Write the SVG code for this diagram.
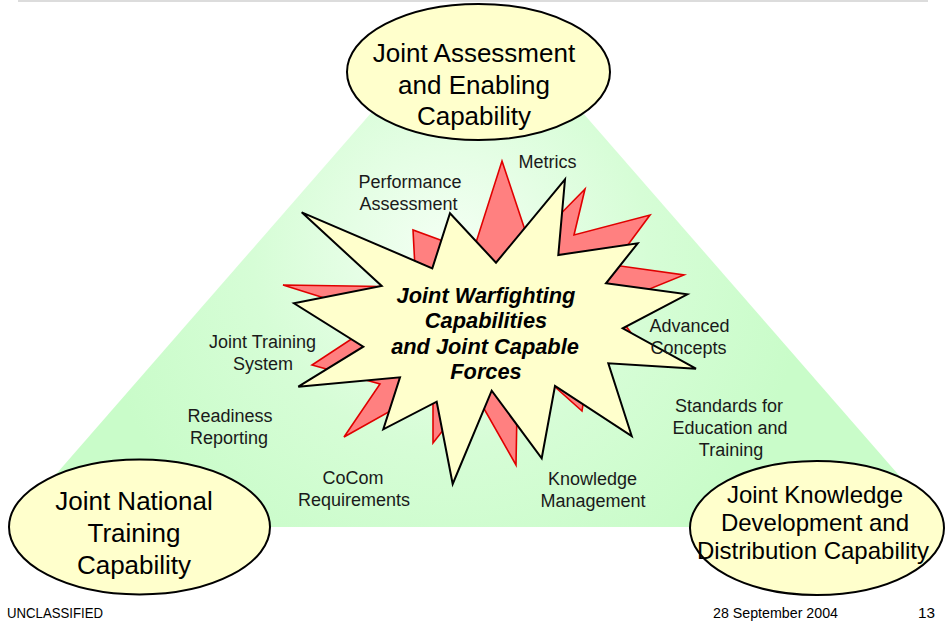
<svg xmlns="http://www.w3.org/2000/svg" width="945" height="631" viewBox="0 0 945 631">
<defs>
<radialGradient id="bg" gradientUnits="userSpaceOnUse" cx="450" cy="250" r="360">
<stop offset="0" stop-color="#f4fff4"/>
<stop offset="0.55" stop-color="#d6fdd6"/>
<stop offset="1" stop-color="#c9fcc9"/>
</radialGradient>
<style>
.ell{fill:#ffffcc;stroke:#000;stroke-width:2}
.big{font-family:"Liberation Sans",Arial,sans-serif;font-size:26px;fill:#000;text-anchor:middle}
.mid{font-family:"Liberation Sans",Arial,sans-serif;font-size:24px;fill:#000;text-anchor:middle}
.lbl{font-family:"Liberation Sans",Arial,sans-serif;font-size:18px;fill:#1a1a1a;text-anchor:middle}
.ctr{font-family:"Liberation Sans",Arial,sans-serif;font-size:21.8px;font-weight:bold;font-style:italic;fill:#000;text-anchor:middle}
.ftr{font-family:"Liberation Sans Narrow","Liberation Sans",Arial,sans-serif;font-size:14px;fill:#000}
</style>
</defs>
<rect width="945" height="631" fill="#fff"/>
<line x1="18" y1="1" x2="928" y2="1" stroke="#dcdcdc" stroke-width="2"/>

<g id="background">
<polygon points="386.7,95 567.3,95 944,527 10,527" fill="url(#bg)"/>
</g>

<g id="burst-shadow">
<polygon points="502,161 530,245 585,189 574,235 650,215 613,265 684,275 610,305 632,334 590,360 582,411 518,354 516,465 474,391 433,443 433,387 344,437 380,384 312,365 385,317 283,285 416,287 413,230 473,252" fill="#ff8080" stroke="#e00000" stroke-width="1.6" stroke-linejoin="miter"/>
</g>

<g id="burst">
<polygon points="565,179.3 496,262.7 450,213.3 432.3,268.3 301.7,212.3 381.7,286 294,303.3 363.3,346.7 298.3,386.7 400,377.3 383.3,429.3 436.7,401.7 452.7,484 491.7,390.7 541.7,458.3 555,386 631.7,436 608.3,363.3 696,368.7 622.7,328.3 687.3,294.3 606,283.3 637.7,243.3 558.3,255" fill="#ffffcc" stroke="#000" stroke-width="2" stroke-linejoin="miter"/>
<text class="ctr" x="486" y="303">Joint Warfighting</text>
<text class="ctr" x="486" y="328">Capabilities</text>
<text class="ctr" x="485" y="353.5">and Joint Capable</text>
<text class="ctr" x="486" y="379">Forces</text>
</g>

<g id="node-top">
<ellipse class="ell" cx="478.5" cy="72" rx="131.5" ry="68"/>
<text class="big" x="474" y="62">Joint Assessment</text>
<text class="big" x="474" y="94">and Enabling</text>
<text class="big" x="474" y="125">Capability</text>
</g>

<g id="node-left">
<ellipse class="ell" cx="139.5" cy="527" rx="130.5" ry="67.5"/>
<text class="big" x="134" y="510">Joint National</text>
<text class="big" x="134" y="542">Training</text>
<text class="big" x="134" y="574">Capability</text>
</g>

<g id="node-right">
<ellipse class="ell" cx="817" cy="528" rx="127" ry="67"/>
<text class="mid" x="815" y="503">Joint Knowledge</text>
<text class="mid" x="815" y="531">Development and</text>
<text class="mid" x="813" y="559">Distribution Capability</text>
</g>

<g id="labels">
<text class="lbl" x="410" y="188">Performance</text>
<text class="lbl" x="408.5" y="210">Assessment</text>
<text class="lbl" x="547.5" y="168">Metrics</text>
<text class="lbl" x="689.5" y="331.5">Advanced</text>
<text class="lbl" x="688.5" y="353.5">Concepts</text>
<text class="lbl" x="729" y="412">Standards for</text>
<text class="lbl" x="730" y="434">Education and</text>
<text class="lbl" x="731" y="456">Training</text>
<text class="lbl" x="592.5" y="485">Knowledge</text>
<text class="lbl" x="593" y="507">Management</text>
<text class="lbl" x="353" y="484">CoCom</text>
<text class="lbl" x="354" y="505.5">Requirements</text>
<text class="lbl" x="230" y="421.5">Readiness</text>
<text class="lbl" x="229" y="443.5">Reporting</text>
<text class="lbl" x="262.5" y="348">Joint Training</text>
<text class="lbl" x="263" y="369.5">System</text>
</g>

<g id="footer">
<text class="ftr" x="7" y="618" textLength="96" lengthAdjust="spacingAndGlyphs">UNCLASSIFIED</text>
<text class="ftr" x="713" y="618" textLength="125" lengthAdjust="spacingAndGlyphs">28 September 2004</text>
<text class="ftr" x="918" y="618" textLength="17" lengthAdjust="spacingAndGlyphs">13</text>
</g>
</svg>
